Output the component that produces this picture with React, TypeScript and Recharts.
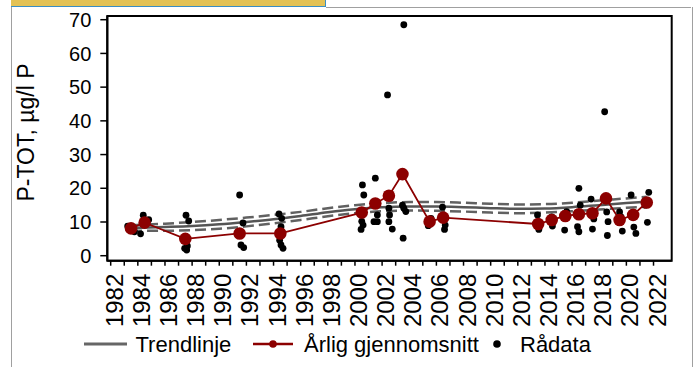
import { ComposedChart, Line, Scatter, XAxis, YAxis, ReferenceArea } from 'recharts';

// årlig gjennomsnitt (plotted mid-year)
const meanDates = [1983.5, 1984.5, 1987.5, 1991.5, 1994.5, 2000.5, 2001.5, 2002.5, 2003.5, 2005.5, 2006.5, 2013.5, 2014.5, 2015.5, 2016.5, 2017.5, 2018.5, 2019.5, 2020.5, 2021.5];
const meanValues = [8.1, 9.8, 5.0, 6.6, 6.6, 12.8, 15.5, 17.8, 24.2, 10.1, 11.3, 9.4, 10.6, 11.8, 12.3, 12.6, 17.0, 10.6, 12.1, 15.8];

// rådata
const rawDates = [
  1983.25, 1983.5, 1983.75, 1984.2, 1984.4, 1984.8,
  1987.55, 1987.75, 1987.65, 1987.45, 1987.6,
  1991.5, 1991.75, 1991.6, 1991.8,
  1994.4, 1994.6, 1994.55, 1994.45, 1994.55, 1994.7,
  2000.55, 2000.65, 2000.5, 2000.6, 2000.45,
  2001.5, 2001.4, 2001.65, 2001.65,
  2002.4, 2002.5, 2002.55, 2002.5, 2002.75,
  2003.6, 2003.5, 2003.6, 2003.75, 2003.55,
  2005.45, 2005.6, 2005.4,
  2006.45, 2006.65, 2006.6,
  2013.45, 2013.55, 2013.5,
  2014.5, 2014.6, 2014.55,
  2015.45, 2015.6, 2015.5,
  2016.5, 2016.4, 2016.5, 2016.6,
  2017.4, 2017.5, 2017.6,
  2018.4, 2018.55, 2018.65, 2018.6,
  2019.5, 2019.7, 2019.6,
  2020.35, 2020.55, 2020.7,
  2021.65, 2021.55, 2021.4,
];
const rawValues = [
  8.8, 8.0, 7.1, 6.5, 12.0, 10.7,
  12.0, 10.3, 2.9, 2.2, 1.7,
  18.0, 9.7, 3.2, 2.4,
  12.4, 11.1, 8.6, 4.6, 3.2, 2.2,
  21.0, 18.0, 10.2, 9.1, 7.8,
  23.0, 10.1, 10.1, 12.1,
  47.7, 14.1, 12.1, 10.1, 7.9,
  68.5, 15.0, 14.1, 13.1, 5.2,
  9.8, 11.1, 8.9,
  14.4, 9.1, 7.8,
  12.1, 7.8, 9.4,
  11.5, 10.0, 8.8,
  7.6, 13.1, 11.0,
  20.0, 8.6, 7.1, 15.0,
  16.8, 7.9, 10.9,
  42.7, 13.0, 10.1, 6.0,
  13.0, 7.3, 11.5,
  18.0, 8.5, 6.6,
  18.8, 9.9, 15.0,
];

// trendlinje med konfidensbånd
const trendDates = [1983.5, 1986, 1988, 1990, 1992, 1994, 1996, 1998, 2000, 2002, 2004, 2006, 2008, 2010, 2012, 2014, 2016, 2018, 2020, 2021.5];
const trendValues = [8.2, 8.5, 8.8, 9.3, 10.0, 10.8, 11.8, 12.9, 13.8, 14.4, 14.6, 14.6, 14.4, 14.1, 13.9, 14.0, 14.4, 15.0, 15.6, 16.0];
const upperValues = [9.0, 9.5, 10.0, 10.6, 11.3, 12.1, 13.0, 14.1, 15.0, 15.6, 15.9, 15.9, 15.7, 15.4, 15.2, 15.3, 15.7, 16.4, 17.0, 17.5];
const lowerValues = [7.4, 7.4, 7.6, 8.0, 8.7, 9.6, 10.6, 11.7, 12.6, 13.2, 13.4, 13.3, 13.1, 12.8, 12.6, 12.8, 13.2, 13.7, 14.2, 14.5];

const yearTicks = [1982, 1983, 1984, 1985, 1986, 1987, 1988, 1989, 1990, 1991, 1992, 1993, 1994, 1995, 1996, 1997, 1998, 1999, 2000, 2001, 2002, 2003, 2004, 2005, 2006, 2007, 2008, 2009, 2010, 2011, 2012, 2013, 2014, 2015, 2016, 2017, 2018, 2019, 2020, 2021, 2022];
const valueTicks = [0, 10, 20, 30, 40, 50, 60, 70];

const X_MIN = 1981.75;
const X_MAX = 2023.34;
const Y_MIN = -1.48;
const Y_MAX = 71.1;

const FONT = '"Liberation Sans", Arial, sans-serif';
const RED = '#8c0000';
const GREY = '#555555';
const GREY_DASH = '#616161';

const meanData = meanDates.map((x, i) => ({ x, y: meanValues[i] }));
const rawData = rawDates.map((x, i) => ({ x, y: rawValues[i] }));
const trendData = trendDates.map((x, i) => ({ x, y: trendValues[i] }));
const upperData = trendDates.map((x, i) => ({ x, y: upperValues[i] }));
const lowerData = trendDates.map((x, i) => ({ x, y: lowerValues[i] }));

const YearTick = ({ x, y, payload }: any) => {
  if (payload.value % 2 !== 0) return <g />;
  return (
    <text
      x={x + 12}
      y={y}
      transform={`rotate(-90, ${x + 12}, ${y})`}
      textAnchor="end"
      fontSize={24}
      fontFamily={FONT}
      fill="#000"
    >
      {payload.value}
    </text>
  );
};

const App = () => {
  return (
    <div style={{ position: 'absolute', left: 0, top: 0, width: 695, height: 367, background: '#fff', fontFamily: FONT }}>
      {/* panel frame + yellow tab */}
      <div style={{ position: 'absolute', left: 11, top: 0, width: 314, height: 6, background: '#e3c255', borderBottom: '1px solid #3a8ec4', borderRight: '1px solid #3a8ec4' }} />
      <div style={{ position: 'absolute', left: 11, top: 7, width: 680, height: 370, borderLeft: '1px solid #a0a0a0', borderRight: '1px solid #a0a0a0' }} />
      <div style={{ position: 'absolute', left: 326, top: 7, width: 365, height: 0, borderTop: '1px solid #a0a0a0' }} />

      <div style={{ position: 'absolute', left: 0, top: 0 }}>
        <ComposedChart width={695} height={367} margin={{ top: 16, right: 23.3, left: 0, bottom: 0 }}>
          <XAxis
            dataKey="x"
            type="number"
            domain={[X_MIN, X_MAX]}
            allowDataOverflow
            ticks={yearTicks}
            interval={0}
            tick={<YearTick />}
            tickSize={5}
            tickMargin={8}
            height={106.3}
            axisLine={{ stroke: '#000', strokeWidth: 2 }}
            tickLine={{ stroke: '#000', strokeWidth: 1.5 }}
          />
          <YAxis
            dataKey="y"
            type="number"
            domain={[Y_MIN, Y_MAX]}
            allowDataOverflow
            ticks={valueTicks}
            interval={0}
            width={107.3}
            tickSize={7}
            tickMargin={9}
            tick={{ fontSize: 20, fill: '#000', fontFamily: FONT }}
            axisLine={{ stroke: '#000', strokeWidth: 2 }}
            tickLine={{ stroke: '#000', strokeWidth: 1.5 }}
            label={{
              value: 'P-TOT, µg/l P',
              angle: -90,
              position: 'insideLeft',
              content: () => (
                <text
                  x={33.5}
                  y={132.5}
                  transform="rotate(-90, 33.5, 132.5)"
                  textAnchor="middle"
                  fontSize={23}
                  fontFamily={FONT}
                  fill="#000"
                >
                  P-TOT, µg/l P
                </text>
              ),
            }}
          />
          <Line data={upperData} dataKey="y" type="monotone" stroke={GREY_DASH} strokeWidth={2.5} strokeDasharray="11 5" dot={false} activeDot={false} isAnimationActive={false} />
          <Line data={lowerData} dataKey="y" type="monotone" stroke={GREY_DASH} strokeWidth={2.5} strokeDasharray="11 5" dot={false} activeDot={false} isAnimationActive={false} />
          <Line data={trendData} dataKey="y" type="monotone" stroke={GREY} strokeWidth={2.5} dot={false} activeDot={false} isAnimationActive={false} />
          <Scatter data={rawData} dataKey="y" fill="#000" shape={(p: any) => <circle cx={p.cx} cy={p.cy} r={3.4} fill="#000" />} isAnimationActive={false} />
          <Line data={meanData} dataKey="y" type="linear" stroke={RED} strokeWidth={1.8} dot={{ r: 6.3, fill: RED, stroke: RED, strokeWidth: 0 }} activeDot={false} isAnimationActive={false} />
          <ReferenceArea x1={X_MIN} x2={X_MAX} y1={Y_MIN} y2={Y_MAX} fill="none" stroke="#000" strokeWidth={2} ifOverflow="visible" />
        </ComposedChart>
      </div>

      {/* legend */}
      <svg width={695} height={34} style={{ position: 'absolute', left: 0, top: 328 }}>
        <line x1={84} x2={127} y1={16} y2={16} stroke="#666" strokeWidth={3} />
        <text x={135.5} y={24} fontSize={22} fontFamily={FONT} fill="#000">Trendlinje</text>
        <line x1={253} x2={293} y1={16} y2={16} stroke={RED} strokeWidth={2.5} />
        <circle cx={273} cy={16} r={3.8} fill={RED} />
        <text x={304} y={24} fontSize={22} fontFamily={FONT} fill="#000">Årlig gjennomsnitt</text>
        <circle cx={497} cy={16} r={3.8} fill="#000" />
        <text x={520} y={24} fontSize={22} fontFamily={FONT} fill="#000">Rådata</text>
      </svg>
    </div>
  );
};

export default App;
